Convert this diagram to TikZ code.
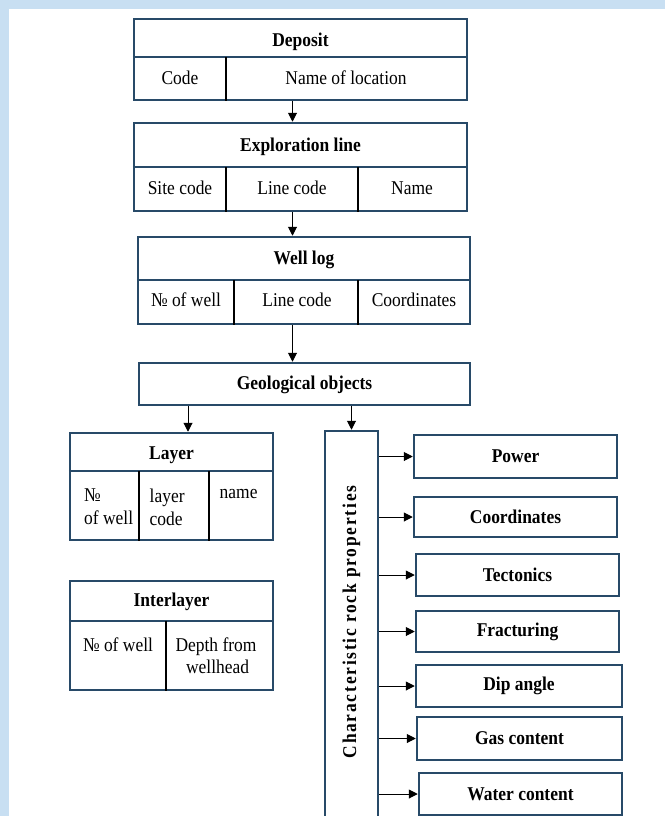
\documentclass[tikz,border=0pt]{standalone}
\usepackage{fontspec}
\setmainfont[FakeStretch=0.895]{Liberation Serif}
\usetikzlibrary{arrows.meta,calc}
\definecolor{bord}{RGB}{40,74,104}
\definecolor{bgblue}{RGB}{200,223,242}
\begin{document}
\begin{tikzpicture}[x=1pt,y=-1pt,
 box/.style={draw=bord,line width=2.5pt,fill=white,inner sep=0pt,rectangle},
 hline/.style={draw=bord,line width=2.2pt},
 vline/.style={draw=black,line width=1.5pt},
 arr/.style={draw=black,line width=1pt,-{Triangle[length=9pt,width=9pt]}},
 txt/.style={inner sep=0pt,font=\fontsize{19.5}{23}\selectfont},
 hdr/.style={inner sep=0pt,font=\fontsize{19.5}{23}\selectfont\bfseries}]
\useasboundingbox (0,0) rectangle (665,816);
\clip (0,0) rectangle (665,816);
\fill[bgblue] (0,0) rectangle (665,816);
\fill[white] (9,9) rectangle (665,816);

% Deposit
\node[box,minimum width=333pt,minimum height=81pt] (dep) at (300.5,59.5) {};
\draw[hline] (dep.west |- 0,57) -- (dep.east |- 0,57);
\draw[vline] (226,57) -- (dep.south -| 226,0);
\node[hdr] (depT) at (300.5,41.5) {Deposit};
\node[txt] (depC) at (180,78) {Code};
\node[txt] (depN) at (346,78) {Name of location};

% Exploration line
\node[box,minimum width=333pt,minimum height=88pt] (expl) at (300.5,167) {};
\draw[hline] (expl.west |- 0,167) -- (expl.east |- 0,167);
\draw[vline] (226,167) -- (expl.south -| 226,0);
\draw[vline] (358,167) -- (expl.south -| 358,0);
\node[hdr] (explT) at (300.5,146.5) {Exploration line};
\node[txt] (explS) at (180,188) {Site code};
\node[txt] (explL) at (292,188) {Line code};
\node[txt] (explN) at (412,188) {Name};

% Well log
\node[box,minimum width=332pt,minimum height=87pt] (well) at (304,280.5) {};
\draw[hline] (well.west |- 0,280) -- (well.east |- 0,280);
\draw[vline] (234,280) -- (well.south -| 234,0);
\draw[vline] (358,280) -- (well.south -| 358,0);
\node[hdr] (wellT) at (304,259.5) {Well log};
\node[txt] (wellN) at (186,300) {№ of well};
\node[txt] (wellL) at (297,300) {Line code};
\node[txt] (wellC) at (414,300) {Coordinates};

% Geological objects
\node[box,minimum width=331pt,minimum height=42pt] (geo) at (304.5,384) {};
\node[hdr] (geoT) at (304.5,385) {Geological objects};

% Layer
\node[box,minimum width=203pt,minimum height=107pt] (layer) at (171.5,486.5) {};
\draw[hline] (layer.west |- 0,471) -- (layer.east |- 0,471);
\draw[vline] (139,471) -- (layer.south -| 139,0);
\draw[vline] (209,471) -- (layer.south -| 209,0);
\node[hdr] (layerT) at (171.5,455.5) {Layer};
\node[txt,align=left,anchor=north west] (layerA) at (84,489) {№\\of well};
\node[txt,align=left,anchor=north west] (layerB) at (149.5,488.7) {layer\\code};
\node[txt,align=left,anchor=north west] (layerC) at (219.5,488.7) {name};

% Interlayer
\node[box,minimum width=203pt,minimum height=109pt] (inter) at (171.5,635.5) {};
\draw[hline] (inter.west |- 0,621) -- (inter.east |- 0,621);
\draw[vline] (166,621) -- (inter.south -| 166,0);
\node[hdr] (interT) at (171.5,602) {Interlayer};
\node[txt,anchor=base] (interA) at (118,651) {№ of well};
\node[txt,align=center,anchor=north,font=\fontsize{19.5}{22}\selectfont] (interB) at (216,637.7) {Depth from\\ \,wellhead};

% Characteristic rock properties
\node[box,minimum width=53pt,minimum height=409pt] (char) at (351.5,635.5) {};
\node[inner sep=0pt,rotate=90,font=\fontsize{19.5}{23}\selectfont\bfseries\addfontfeatures{LetterSpace=9}] (charT) at (351.5,622) {Characteristic rock properties};

% Property boxes
\node[box,minimum width=203pt,minimum height=43pt] (p1) at (515.5,456.5) {};
\node[box,minimum width=203pt,minimum height=40pt] (p2) at (515.5,517) {};
\node[box,minimum width=203pt,minimum height=42pt] (p3) at (517.5,575) {};
\node[box,minimum width=203pt,minimum height=41pt] (p4) at (517.5,631.5) {};
\node[box,minimum width=206pt,minimum height=42pt] (p5) at (519,686) {};
\node[box,minimum width=205pt,minimum height=43pt] (p6) at (519.5,738.5) {};
\node[box,minimum width=203pt,minimum height=42pt] (p7) at (520.5,794) {};
\node[hdr] (p1T) at (p1.center) {Power};
\node[hdr] (p2T) at (p2.center) {Coordinates};
\node[hdr] (p3T) at (p3.center) {Tectonics};
\node[hdr] (p4T) at (p4.center) {Fracturing};
\node[hdr] (p5T) at (p5.center) {Dip angle};
\node[hdr] (p6T) at (p6.center) {Gas content};
\node[hdr] (p7T) at (p7.center) {Water content};

% Connectors
\coordinate (ax) at (292.5,0);
\coordinate (bx) at (188,0);
\draw[arr] (dep.south -| ax) -- (expl.north -| ax);
\draw[arr] (expl.south -| ax) -- (well.north -| ax);
\draw[arr] (well.south -| ax) -- (geo.north -| ax);
\draw[arr] (geo.south -| bx) -- (layer.north -| bx);
\draw[arr] (geo.south -| char.north) -- (char.north);
\foreach \p in {p1,p2,p3,p4,p5,p6,p7}{
  \draw[arr] (char.east |- \p.west) -- (\p.west);
}
\end{tikzpicture}
\end{document}
